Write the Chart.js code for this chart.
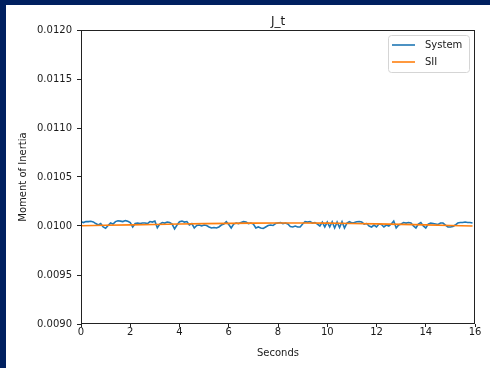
<!DOCTYPE html>
<html><head><meta charset="utf-8">
<script src="https://cdn.jsdelivr.net/npm/chart.js@4/dist/chart.umd.min.js"></script>
<style>
html,body{margin:0;padding:0;background:#002060;width:490px;height:368px;overflow:hidden}
#wrap{position:absolute;left:6px;top:5px;width:484px;height:363px;background:#fff}
canvas{display:block}
</style></head><body>
<div id="wrap"><canvas id="c" width="484" height="363"></canvas></div>
<script>
const chartTitle = "J_t";
const xTitle = "Seconds";
const yTitle = "Moment of Inertia";
const seriesNames = ["System", "SII"];
const xTicks = [0, 2, 4, 6, 8, 10, 12, 14, 16];
const yTicks = [0.0090, 0.0095, 0.0100, 0.0105, 0.0110, 0.0115, 0.0120];

const systemTime = [
  0.0,0.1,0.2,0.3,0.4,0.5,0.6,0.7,0.8,0.9,
  1.0,1.1,1.2,1.3,1.4,1.5,1.6,1.7,1.8,1.9,
  2.0,2.1,2.2,2.3,2.4,2.5,2.6,2.7,2.8,2.9,
  3.0,3.1,3.2,3.3,3.4,3.5,3.6,3.7,3.8,3.9,
  4.0,4.1,4.2,4.3,4.4,4.5,4.6,4.7,4.8,4.9,
  5.0,5.1,5.2,5.3,5.4,5.5,5.6,5.7,5.8,5.9,
  6.0,6.1,6.2,6.3,6.4,6.5,6.6,6.7,6.8,6.9,
  7.0,7.1,7.2,7.3,7.4,7.5,7.6,7.7,7.8,7.9,
  8.0,8.1,8.2,8.3,8.4,8.5,8.6,8.7,8.8,8.9,
  9.0,9.1,9.2,9.3,9.4,9.5,9.6,9.7,9.8,9.9,
  10.0,10.1,10.2,10.3,10.4,10.5,10.6,10.7,10.8,10.9,
  11.0,11.1,11.2,11.3,11.4,11.5,11.6,11.7,11.8,11.9,
  12.0,12.1,12.2,12.3,12.4,12.5,12.6,12.7,12.8,12.9,
  13.0,13.1,13.2,13.3,13.4,13.5,13.6,13.7,13.8,13.9,
  14.0,14.1,14.2,14.3,14.4,14.5,14.6,14.7,14.8,14.9,
  15.0,15.1,15.2,15.3,15.4,15.5,15.6,15.7,15.8,15.9
];
const systemValues = [
  0.010044,0.010035,0.010045,0.010045,0.010048,0.010042,0.010025,0.010010,0.010025,0.009990,
  0.009977,0.010005,0.010030,0.010020,0.010045,0.010054,0.010050,0.010045,0.010055,0.010048,
  0.010035,0.009990,0.010025,0.010030,0.010025,0.010030,0.010030,0.010025,0.010045,0.010040,
  0.010050,0.009983,0.010020,0.010035,0.010030,0.010040,0.010035,0.010020,0.009970,0.010010,
  0.010044,0.010050,0.010040,0.010045,0.010010,0.010025,0.009980,0.010005,0.010010,0.010000,
  0.010010,0.010005,0.009990,0.009980,0.009985,0.009980,0.009990,0.010010,0.010020,0.010044,
  0.010015,0.009980,0.010020,0.010030,0.010025,0.010035,0.010044,0.010040,0.010025,0.010030,
  0.010020,0.009980,0.009990,0.009980,0.009975,0.009990,0.010005,0.010010,0.010005,0.010025,
  0.010030,0.010035,0.010025,0.010030,0.010020,0.009995,0.009990,0.010000,0.009990,0.009990,
  0.010020,0.010044,0.010040,0.010045,0.010030,0.010035,0.010020,0.010000,0.010040,0.009990,
  0.010040,0.009990,0.010044,0.009980,0.010040,0.009985,0.010044,0.009980,0.010030,0.010044,
  0.010030,0.010035,0.010044,0.010045,0.010040,0.010020,0.010025,0.010000,0.009990,0.010010,
  0.009990,0.010020,0.010015,0.009990,0.010010,0.010000,0.010020,0.010050,0.009980,0.010010,
  0.010020,0.010035,0.010030,0.010035,0.010030,0.010000,0.009980,0.010020,0.010035,0.010000,
  0.009980,0.010020,0.010030,0.010025,0.010020,0.010015,0.010030,0.010030,0.010010,0.009990,
  0.009990,0.009995,0.010010,0.010030,0.010035,0.010035,0.010040,0.010035,0.010035,0.010030
];
const siiTime = [0,1,2,3,4,5,6,7,8,9,10,11,12,13,14,15,15.9];
const siiValues = [
  0.010003,0.010007,0.010011,0.010016,0.010020,0.010024,0.010027,0.010029,0.010030,
  0.010030,0.010029,0.010026,0.010022,0.010017,0.010011,0.010005,0.010000
];

const TEXT = '#1a1a1a';
const FONT = "'DejaVu Sans', sans-serif";

const toPts = (xs, ys) => xs.map((x, i) => ({x: x, y: ys[i]}));

const decor = {
  id: 'decor',
  afterDatasetsDraw(chart) {
    const {ctx, chartArea: a} = chart;
    ctx.save();
    ctx.strokeStyle = '#222';
    ctx.lineWidth = 1;
    ctx.strokeRect(Math.round(a.left) + 0.5, Math.round(a.top) + 0.5,
                   Math.round(a.right - a.left) - 1, Math.round(a.bottom - a.top) - 1);
    // title
    ctx.fillStyle = TEXT;
    ctx.font = "12px " + FONT;
    ctx.textAlign = 'center';
    ctx.textBaseline = 'alphabetic';
    ctx.fillText(chartTitle, (a.left + a.right) / 2, a.top - 5);
    // legend
    const bx = a.right - 87, by = a.top + 5, bw = 81, bh = 37;
    ctx.beginPath();
    ctx.roundRect(bx + 0.5, by + 0.5, bw, bh, 3);
    ctx.fillStyle = 'rgba(255,255,255,0.8)';
    ctx.fill();
    ctx.strokeStyle = '#d5d5d5';
    ctx.stroke();
    const colors = chart.data.datasets.map(d => d.borderColor);
    ctx.font = "10px " + FONT;
    ctx.textAlign = 'left';
    ctx.textBaseline = 'middle';
    seriesNames.forEach((n, i) => {
      const y = by + 10 + i * 17;
      ctx.strokeStyle = colors[i];
      ctx.lineWidth = 1.6;
      ctx.beginPath();
      ctx.moveTo(bx + 4, y); ctx.lineTo(bx + 27, y); ctx.stroke();
      ctx.fillStyle = TEXT;
      ctx.fillText(n, bx + 37, y);
    });
    ctx.restore();
  }
};

new Chart(document.getElementById('c'), {
  type: 'line',
  data: {
    datasets: [
      {label: seriesNames[0], data: toPts(systemTime, systemValues), borderColor: '#1f77b4',
       borderWidth: 1.6, pointRadius: 0, tension: 0, fill: false, order: 1},
      {label: seriesNames[1], data: toPts(siiTime, siiValues), borderColor: '#ff7f0e',
       borderWidth: 1.6, pointRadius: 0, tension: 0, fill: false, order: 0}
    ]
  },
  options: {
    responsive: false,
    animation: false,
    events: [],
    layout: {padding: {left: 0, right: 15, top: 25, bottom: 0}},
    plugins: {legend: {display: false}, tooltip: {enabled: false}, title: {display: false}},
    scales: {
      x: {
        type: 'linear', min: 0, max: 16,
        afterBuildTicks: s => { s.ticks = xTicks.map(v => ({value: v})); },
        afterFit: s => { s.height = 44; },
        grid: {display: true, drawOnChartArea: false, drawTicks: true, tickLength: 3, color: '#222', lineWidth: 1},
        border: {display: false},
        ticks: {color: TEXT, font: {family: FONT, size: 10}, padding: -1, maxRotation: 0,
                callback: v => String(v)},
        title: {display: true, text: xTitle, color: TEXT, font: {family: FONT, size: 10}, padding: {top: 0, bottom: 9}}
      },
      y: {
        type: 'linear', min: 0.009, max: 0.012,
        afterBuildTicks: s => { s.ticks = yTicks.map(v => ({value: v})); },
        afterFit: s => { s.width = 75; },
        grid: {display: true, drawOnChartArea: false, drawTicks: true, tickLength: 4, color: '#222', lineWidth: 1},
        border: {display: false},
        ticks: {color: TEXT, font: {family: FONT, size: 10}, padding: 5,
                callback: v => Number(v).toFixed(4)},
        title: {display: true, text: yTitle, color: TEXT, font: {family: FONT, size: 10}, padding: {top: 11, bottom: 0}}
      }
    }
  },
  plugins: [decor]
});
</script>
</body></html>
